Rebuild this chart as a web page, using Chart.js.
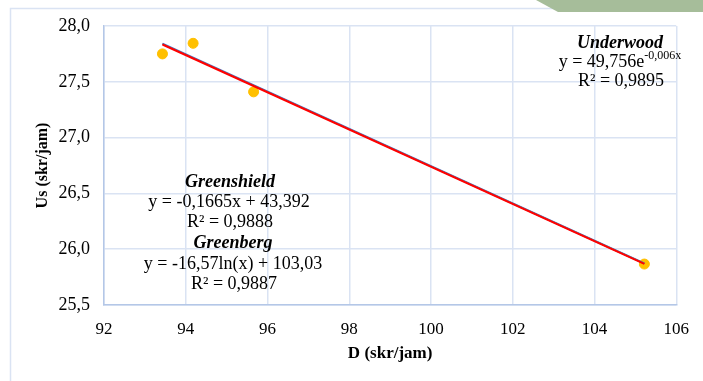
<!DOCTYPE html>
<html>
<head>
<meta charset="utf-8">
<script src="https://cdn.jsdelivr.net/npm/chart.js@4.4.1/dist/chart.umd.min.js"></script>
<style>
  html, body { margin: 0; padding: 0; background: #ffffff; }
  #wrap { width: 703px; height: 381px; position: relative; }
</style>
</head>
<body>
<div id="wrap"><canvas id="c" width="703" height="381"></canvas></div>
<script>
// ---- data ----
const densityD = [93.43, 94.18, 95.66, 105.22];      // D (skr/jam)
const speedUs  = [27.75, 27.845, 27.41, 25.867];     // Us
const trendX        = [93.43, 105.22];
const greenshieldY  = [27.842, 25.873];
const greenbergY    = [27.838, 25.872];
const underwoodY    = [27.834, 25.868];
const xTicks = [92, 94, 96, 98, 100, 102, 104, 106];
const yTicks = [25.5, 26.0, 26.5, 27.0, 27.5, 28.0];

const pts = (xs, ys) => xs.map((x, i) => ({ x: x, y: ys[i] }));

const FONT = "'Liberation Serif', 'Times New Roman', serif";

const decor = {
  id: 'decor',
  beforeDraw(chart) {
    const ctx = chart.ctx;
    ctx.save();
    ctx.fillStyle = '#ffffff';
    ctx.fillRect(0, 0, chart.width, chart.height);
    // outer frame of the pasted figure
    ctx.strokeStyle = '#dae3f3';
    ctx.lineWidth = 1.5;
    ctx.beginPath();
    ctx.moveTo(10.5, 381);
    ctx.lineTo(10.5, 8.5);
    ctx.lineTo(560, 8.5);
    ctx.stroke();
    // green corner shape
    ctx.fillStyle = '#a6bd9a';
    ctx.beginPath();
    ctx.moveTo(536, 0);
    ctx.lineTo(703, 0);
    ctx.lineTo(703, 12);
    ctx.lineTo(558, 12);
    ctx.closePath();
    ctx.fill();
    ctx.restore();
  },
  afterDatasetsDraw(chart) {
    const ctx = chart.ctx;
    ctx.save();
    ctx.fillStyle = '#000000';
    ctx.textAlign = 'center';
    ctx.textBaseline = 'middle';
    const bi = "italic bold 18px " + FONT;
    const rg = "18px " + FONT;
    // Underwood block
    ctx.font = bi; ctx.fillText('Underwood', 620, 43);
    ctx.font = rg;
    const base = 'y = 49,756e';
    const sup = '-0,006x';
    const wb = ctx.measureText(base).width;
    ctx.font = "12px " + FONT;
    const ws = ctx.measureText(sup).width;
    let sx = 620 - (wb + ws) / 2;
    ctx.textAlign = 'left';
    ctx.font = rg; ctx.fillText(base, sx, 62);
    ctx.font = "12px " + FONT; ctx.fillText(sup, sx + wb, 56);
    ctx.textAlign = 'center';
    ctx.font = rg; ctx.fillText('R² = 0,9895', 621, 81);
    // Greenshield block
    ctx.font = bi; ctx.fillText('Greenshield', 230, 182);
    ctx.font = rg; ctx.fillText('y = -0,1665x + 43,392', 229, 202);
    ctx.fillText('R² = 0,9888', 230, 222);
    // Greenberg block
    ctx.font = bi; ctx.fillText('Greenberg', 233, 243);
    ctx.font = rg; ctx.fillText('y = -16,57ln(x) + 103,03', 233, 264);
    ctx.fillText('R² = 0,9887', 234, 284);
    ctx.restore();
  }
};

new Chart(document.getElementById('c'), {
  type: 'scatter',
  data: {
    datasets: [
      {
        label: 'Data',
        data: pts(densityD, speedUs),
        backgroundColor: '#ffc000',
        borderColor: '#ffc000',
        pointRadius: 5,
        pointHoverRadius: 5,
        order: 4
      },
      {
        label: 'Greenshield',
        type: 'line',
        data: pts(trendX, greenshieldY),
        borderColor: '#4472c4',
        borderWidth: 2,
        pointRadius: 0,
        showLine: true,
        order: 3
      },
      {
        label: 'Greenberg',
        type: 'line',
        data: pts(trendX, greenbergY),
        borderColor: '#7f7f7f',
        borderWidth: 1.5,
        pointRadius: 0,
        showLine: true,
        order: 2
      },
      {
        label: 'Underwood',
        type: 'line',
        data: pts(trendX, underwoodY),
        borderColor: '#ff0000',
        borderWidth: 2,
        pointRadius: 0,
        showLine: true,
        order: 1
      }
    ]
  },
  options: {
    responsive: false,
    animation: false,
    events: [],
    layout: { padding: { left: 0, right: 21, top: 26, bottom: 0 } },
    plugins: { legend: { display: false }, tooltip: { enabled: false } },
    scales: {
      x: {
        type: 'linear',
        min: 92, max: 106,
        afterBuildTicks(scale) { scale.ticks = xTicks.map(v => ({ value: v })); },
        afterFit(scale) { scale.height = 76; },
        grid: { color: '#dae3f3', lineWidth: 1.5, drawTicks: false },
        border: { color: '#b4c7e7', width: 1.5 },
        ticks: {
          color: '#000000',
          padding: 14,
          font: { family: FONT, size: 17 },
          callback: v => String(v)
        },
        title: {
          display: true,
          text: 'D (skr/jam)',
          color: '#000000',
          font: { family: FONT, size: 17, weight: 'bold' },
          padding: { top: 0, bottom: 17 }
        }
      },
      y: {
        type: 'linear',
        min: 25.5, max: 28.0,
        afterBuildTicks(scale) { scale.ticks = yTicks.map(v => ({ value: v })); },
        afterFit(scale) { scale.width = 104; },
        grid: { color: '#dae3f3', lineWidth: 1.5, drawTicks: false },
        border: { color: '#b4c7e7', width: 1.5 },
        ticks: {
          color: '#000000',
          padding: 14,
          font: { family: FONT, size: 18 },
          callback: v => v.toFixed(1).replace('.', ',')
        },
        title: {
          display: true,
          text: 'Us (skr/jam)',
          color: '#000000',
          font: { family: FONT, size: 16, weight: 'bold' },
          padding: { top: 33, bottom: 0 }
        }
      }
    }
  },
  plugins: [decor]
});
</script>
</body>
</html>
